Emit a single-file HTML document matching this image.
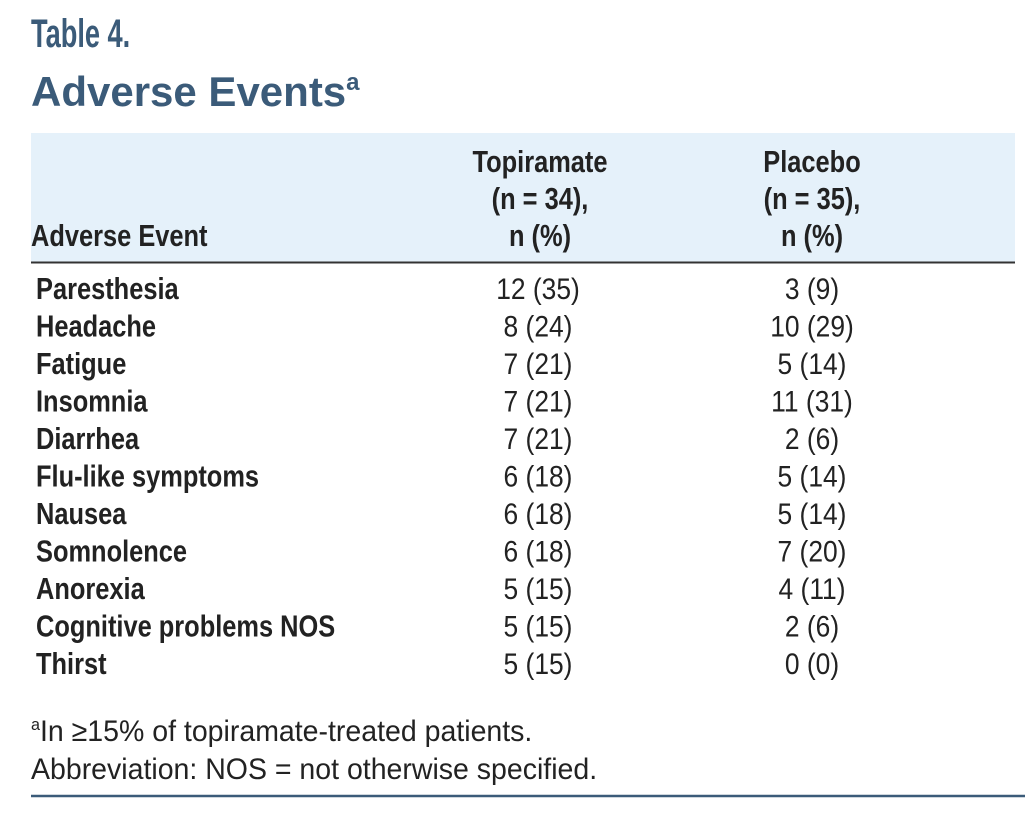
<!DOCTYPE html>
<html><head><meta charset="utf-8"><style>
html,body{margin:0;padding:0;background:#fff;width:1035px;height:827px;overflow:hidden}
svg{display:block}
text{font-family:"Liberation Sans",sans-serif}
</style></head><body>
<svg width="1035" height="827">
<text transform="translate(31,47) scale(0.68,1)" font-size="40" font-weight="bold" fill="#3b5b79">Table 4.</text>
<text x="31" y="106" font-weight="bold" font-size="42" fill="#3b5b79">Adverse Events<tspan font-size="24" dy="-16">a</tspan></text>
<rect x="31" y="133" width="984" height="129" fill="#e5f1fa"/>
<line x1="31" x2="1015" y1="262.5" y2="262.5" stroke="#333" stroke-width="2"/>
<g font-weight="bold" font-size="31" fill="#222">
<text transform="translate(31,246) scale(0.82,1)">Adverse Event</text>
<g text-anchor="middle">
<text transform="translate(540,172) scale(0.82,1)">Topiramate</text><text transform="translate(540,209) scale(0.82,1)">(n = 34),</text><text transform="translate(540,246) scale(0.82,1)">n (%)</text></g>
<g text-anchor="middle">
<text transform="translate(812,172) scale(0.82,1)">Placebo</text><text transform="translate(812,209) scale(0.82,1)">(n = 35),</text><text transform="translate(812,246) scale(0.82,1)">n (%)</text></g>
</g>
<g id="rows"></g>
<text transform="translate(31,741) scale(0.95,1)" font-size="30" fill="#222"><tspan font-size="17" dy="-11">a</tspan><tspan dy="11">In ≥15% of topiramate-treated patients.</tspan></text>
<text transform="translate(31,779) scale(0.95,1)" font-size="30" fill="#222">Abbreviation: NOS = not otherwise specified.</text>
<line x1="31" x2="1025" y1="796" y2="796" stroke="#3b5b79" stroke-width="2.5"/>
</svg>
<script>
const events=["Paresthesia","Headache","Fatigue","Insomnia","Diarrhea","Flu-like symptoms","Nausea","Somnolence","Anorexia","Cognitive problems NOS","Thirst"];
const topiramate=["12 (35)","8 (24)","7 (21)","7 (21)","7 (21)","6 (18)","6 (18)","6 (18)","5 (15)","5 (15)","5 (15)"];
const placebo=["3 (9)","10 (29)","5 (14)","11 (31)","2 (6)","5 (14)","5 (14)","7 (20)","4 (11)","2 (6)","0 (0)"];
const NS="http://www.w3.org/2000/svg";
const g=document.getElementById('rows');
function t(x,y,s,anchor,bold,name){
 const e=document.createElementNS(NS,'text');
 e.setAttribute('transform','translate('+x+','+y+') scale('+(bold?0.82:0.88)+',1)');
 e.setAttribute('font-size',bold?31:30);e.setAttribute('fill','#222');
 if(bold)e.setAttribute('font-weight','bold');
 if(anchor)e.setAttribute('text-anchor',anchor);
 e.textContent=s;
 
 
 g.appendChild(e);
}
events.forEach((ev,i)=>{
 const y=299+i*37.5;
 t(36,y,ev,null,true,'row-label');
 t(538,y,topiramate[i],'middle',false,'topiramate-value');
 t(812,y,placebo[i],'middle',false,'placebo-value');
});
</script>
</body></html>
